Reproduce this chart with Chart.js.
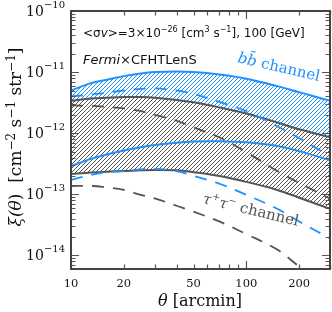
<!DOCTYPE html>
<html>
<head>
<meta charset="utf-8">
<script src="https://cdn.jsdelivr.net/npm/chart.js@4.4.0/dist/chart.umd.min.js"></script>
<style>
  html, body { margin: 0; padding: 0; background: #fff; }
</style>
</head>
<body>
<canvas id="chart" width="332" height="312"></canvas>
<script>
// --- data ---
const thetaArcmin = [10, 13, 16, 20, 25, 30, 40, 50, 70, 100, 150, 200, 300];

// b-bbar channel (blue band)
const bbUpper     = [5.0e-12, 6.6e-12, 7.5e-12, 8.6e-12, 9.5e-12, 1.0e-11, 1.02e-11, 1.0e-11, 9.1e-12, 7.8e-12, 5.9e-12, 4.7e-12, 3.4e-12];
const bbLower     = [2.9e-13, 3.8e-13, 4.5e-13, 5.2e-13, 5.9e-13, 6.4e-13, 7.0e-13, 7.3e-13, 7.4e-13, 7.1e-13, 6.2e-13, 5.1e-13, 3.6e-13];
const bbDashUpper = [4.0e-12, 4.3e-12, 4.6e-12, 5.0e-12, 5.3e-12, 5.4e-12, 5.0e-12, 4.4e-12, 3.25e-12, 2.3e-12, 1.3e-12, 8.3e-13, 4.2e-13];
const bbDashLower = [1.72e-13, 2.08e-13, 2.3e-13, 2.4e-13, 2.57e-13, 2.6e-13, 2.4e-13, 2.0e-13, 1.5e-13, 9.8e-14, 5.8e-14, 3.6e-14, 1.9e-14];

// tau+tau- channel (gray band)
const ttUpper     = [3.4e-12, 3.7e-12, 3.8e-12, 3.9e-12, 3.9e-12, 3.8e-12, 3.5e-12, 3.2e-12, 2.65e-12, 2.1e-12, 1.5e-12, 1.16e-12, 8.6e-13];
const ttLower     = [2.16e-13, 2.28e-13, 2.35e-13, 2.4e-13, 2.47e-13, 2.5e-13, 2.47e-13, 2.3e-13, 2.0e-13, 1.6e-13, 1.18e-13, 8.8e-14, 5.8e-14];
const ttDashUpper = [2.85e-12, 2.8e-12, 2.7e-12, 2.55e-12, 2.3e-12, 2.0e-12, 1.6e-12, 1.25e-12, 8.6e-13, 4.9e-13, 2.4e-13, 1.54e-13, 8.5e-14];
const ttDashLower = [1.37e-13, 1.37e-13, 1.3e-13, 1.18e-13, 9.8e-14, 8.6e-14, 6.5e-14, 5.2e-14, 3.6e-14, 2.24e-14, 1.25e-14, 6.6e-15, 2.9e-15];

// tick labels
const xTickLabels = [10, 20, 50, 100, 200];
const yTickExponents = [-10, -11, -12, -13, -14];

const BLUE = 'rgb(30,144,255)';
const GRAY = 'rgb(85,85,85)';
const SERIF = '"DejaVu Serif"';
const SANS = '"DejaVu Sans"';

const canvas = document.getElementById('chart');
const ctx0 = canvas.getContext('2d');

// diagonal hatch pattern
function hatch(color, bg) {
    const s = 4;
    const c = document.createElement('canvas');
    c.width = s; c.height = s;
    const g = c.getContext('2d');
    g.fillStyle = bg;
    g.fillRect(0, 0, s, s);
    g.strokeStyle = color;
    g.lineWidth = 1;
    g.beginPath();
    g.moveTo(0, s); g.lineTo(s, 0);
    g.moveTo(-1, 1); g.lineTo(1, -1);
    g.moveTo(s - 1, s + 1); g.lineTo(s + 1, s - 1);
    g.stroke();
    return ctx0.createPattern(c, 'repeat');
}

// text with italic / superscript pieces
function drawRich(ctx, parts, x, y, size, family, align, supRaise) {
    const fontFor = p => `${p.it ? 'italic ' : ''}${p.sup ? Math.round(size * 0.68) : size}px ${family}`;
    let w = 0;
    parts.forEach(p => { ctx.font = fontFor(p); w += ctx.measureText(p.t).width; });
    let cx = align === 'center' ? x - w / 2 : align === 'right' ? x - w : x;
    ctx.textAlign = 'left';
    ctx.textBaseline = 'alphabetic';
    parts.forEach(p => {
        ctx.font = fontFor(p);
        ctx.fillText(p.t, cx, p.sup ? y - (supRaise || size * 0.42) : y);
        cx += ctx.measureText(p.t).width;
    });
}

function line(data, color, width, dash, order, fill, bg) {
    return {
        data: data,
        borderColor: color,
        borderWidth: width,
        borderDash: dash || [],
        pointRadius: 0,
        tension: 0.35,
        order: order,
        fill: fill === undefined ? false : fill,
        backgroundColor: bg || 'transparent'
    };
}

// frame, inward ticks and all text
const decorations = {
    id: 'decorations',
    afterDatasetsDraw(chart) {
        const { ctx, chartArea: a, scales: { x, y } } = chart;
        ctx.save();
        ctx.strokeStyle = GRAY;
        ctx.lineWidth = 1.2;
        ctx.beginPath();
        x.ticks.forEach(t => {
            const px = Math.round(x.getPixelForValue(t.value)) + 0.5;
            const len = t.major ? 8 : 4.5;
            ctx.moveTo(px, a.bottom); ctx.lineTo(px, a.bottom - len);
            ctx.moveTo(px, a.top); ctx.lineTo(px, a.top + len);
        });
        y.ticks.forEach(t => {
            const py = Math.round(y.getPixelForValue(t.value)) + 0.5;
            const len = t.major ? 8 : 4.5;
            ctx.moveTo(a.left, py); ctx.lineTo(a.left + len, py);
            ctx.moveTo(a.right, py); ctx.lineTo(a.right - len, py);
        });
        ctx.stroke();

        ctx.strokeStyle = '#444';
        ctx.lineWidth = 2;
        ctx.strokeRect(a.left, a.top, a.right - a.left, a.bottom - a.top);

        ctx.fillStyle = '#111';
        // x tick labels
        xTickLabels.forEach(v => {
            drawRich(ctx, [{ t: String(v) }], x.getPixelForValue(v), 287, 11.5, SERIF, 'center');
        });
        // y tick labels
        yTickExponents.forEach(e => {
            const py = y.getPixelForValue(Math.pow(10, e));
            drawRich(ctx, [{ t: '10' }, { t: '\u2212' + Math.abs(e), sup: true }], 65, py + 5, 14, SERIF, 'right', 8);
        });

        // axis titles
        drawRich(ctx, [{ t: '\u03b8', it: true }, { t: ' [arcmin]' }], 200, 306, 16, SERIF, 'center');
        ctx.save();
        ctx.translate(21, 137);
        ctx.rotate(-Math.PI / 2);
        drawRich(ctx, [
            { t: '\u03be(', it: true }, { t: '\u03b8', it: true }, { t: ')  [cm' },
            { t: '\u22122', sup: true }, { t: ' s' }, { t: '\u22121', sup: true },
            { t: ' str' }, { t: '\u22121', sup: true }, { t: ']' }
        ], 0, 0, 17, SERIF, 'center', 6.5);
        ctx.restore();

        // annotations
        drawRich(ctx, [
            { t: '<\u03c3' }, { t: 'v', it: true }, { t: '>=3\u00d710' }, { t: '\u221226', sup: true },
            { t: ' [cm' }, { t: '3', sup: true }, { t: ' s' }, { t: '\u22121', sup: true },
            { t: '], 100 [GeV]' }
        ], 83, 36.5, 12, SANS, 'left', 4.5);
        drawRich(ctx, [{ t: 'Fermi', it: true }, { t: '\u00d7CFHTLenS' }], 83, 64, 13, SANS, 'left');

        ctx.save();
        ctx.fillStyle = BLUE;
        ctx.translate(237, 62);
        ctx.rotate(0.23);
        drawRich(ctx, [{ t: 'b', it: true }, { t: 'b\u0304', it: true }, { t: ' channel' }], 0, 0, 15, SERIF, 'left');
        ctx.restore();

        ctx.save();
        ctx.fillStyle = GRAY;
        ctx.translate(202, 203);
        ctx.rotate(0.235);
        drawRich(ctx, [{ t: '\u03c4', it: true }, { t: '+', sup: true }, { t: '\u03c4', it: true },
            { t: '\u2212', sup: true }, { t: ' channel' }], 0, 0, 15, SERIF, 'left', 6);
        ctx.restore();

        ctx.restore();
    }
};

const blueHatch = hatch(BLUE, 'rgba(255,255,255,0)');
const grayHatch = hatch(GRAY, '#fff');

// draw order: higher "order" is painted first (blue band, then gray band, then the lines)
new Chart(canvas, {
    type: 'line',
    data: {
        labels: thetaArcmin,
        datasets: [
            line(bbUpper, BLUE, 2, null, 10, '+1', blueHatch),
            line(bbLower, BLUE, 2, null, 2),
            line(bbDashUpper, BLUE, 1.8, [12, 9], 1),
            line(bbDashLower, BLUE, 1.8, [12, 9], 1),
            line(ttUpper, GRAY, 2, null, 9, '+1', grayHatch),
            line(ttLower, GRAY, 2, null, 3),
            line(ttDashUpper, GRAY, 1.8, [12, 9], 4),
            line(ttDashLower, GRAY, 1.8, [12, 9], 4)
        ]
    },
    options: {
        responsive: false,
        animation: false,
        devicePixelRatio: 1,
        layout: { padding: { top: 11, right: 2, left: 0, bottom: 0 } },
        plugins: {
            legend: { display: false },
            tooltip: { enabled: false }
        },
        scales: {
            x: {
                type: 'logarithmic',
                min: 10,
                max: 300,
                grid: { display: false },
                border: { display: false },
                ticks: { display: false },
                afterBuildTicks: scale => {
                    const vals = [10, 20, 30, 40, 50, 60, 70, 80, 90, 100, 200, 300];
                    scale.ticks = vals.map(v => ({ value: v, major: v === 10 || v === 100 }));
                },
                afterFit: scale => { scale.height = 43; }
            },
            y: {
                type: 'logarithmic',
                min: 6.4e-15,
                max: 1e-10,
                grid: { display: false },
                border: { display: false },
                ticks: { display: false },
                afterBuildTicks: scale => {
                    const ticks = [];
                    for (let e = -15; e <= -10; e++) {
                        for (let m = 1; m <= 9; m++) {
                            const v = m * Math.pow(10, e);
                            if (v >= scale.min && v <= scale.max * 1.0001) ticks.push({ value: v, major: m === 1 });
                        }
                    }
                    scale.ticks = ticks;
                },
                afterFit: scale => { scale.width = 71; }
            }
        }
    },
    plugins: [decorations]
});
</script>
</body>
</html>
